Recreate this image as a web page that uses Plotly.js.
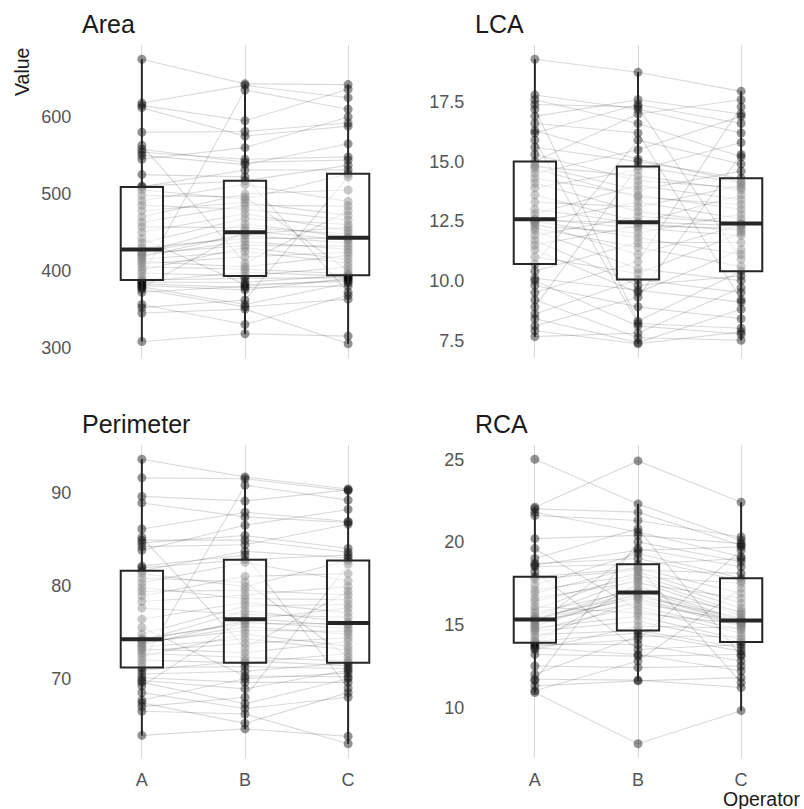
<!DOCTYPE html>
<html><head><meta charset="utf-8">
<script src="https://cdn.plot.ly/plotly-3.0.1.min.js"></script>
<style>html,body{margin:0;padding:0;background:#fff}#chart{width:804px;height:809px}</style>
</head><body><div id="chart"></div>
<script>
const operators = ['A','B','C'];
const panelNames = ['Area','LCA','Perimeter','RCA'];

const areaA=[308,345,352,356,372,376,378,379,381,383,385,386,388,392,397,401,405,409,412,415,418,420,422,423,425,430,436,442,450,457,463,470,478,485,491,498,505,509,510,525,545,550,554,558,563,580,612,615,618,675];
const areaB=[318,350,362,330,380,353,452,356,375,378,385,398,390,635,393,430,402,418,405,425,448,438,433,461,446,442,468,382,474,456,485,500,489,480,512,496,493,531,517,522,560,538,545,541,410,581,575,595,641,643];
const areaC=[315,305,522,368,388,363,440,384,390,380,394,393,391,610,405,415,396,424,420,410,456,428,432,444,436,442,460,386,452,448,484,505,472,466,490,400,526,531,537,372,600,565,548,544,478,592,588,636,625,642];

const lcaA=[7.65,7.9,8.1,8.4,8.6,8.9,9.2,9.5,9.8,10.0,10.1,10.4,10.7,11.0,11.3,11.5,11.7,11.9,12.1,12.2,12.3,12.4,12.45,12.5,12.55,12.6,12.8,13.0,13.3,13.6,13.9,14.1,14.3,14.5,14.7,14.8,14.85,15.0,15.3,15.6,15.9,16.2,16.3,16.6,16.9,17.2,17.4,17.6,17.8,19.3];
const lcaB=[7.8,7.35,9.3,7.4,10.05,14.8,7.6,10.8,8.9,8.1,9.6,11.6,15.9,10.3,9.5,12.3,9.8,12.7,10.5,11.4,12.0,11.1,13.3,11.8,12.42,12.2,14.0,12.4,13.1,12.48,14.65,12.9,13.6,15.5,13.5,14.4,13.8,17.0,14.2,15.0,8.2,17.4,15.1,16.2,17.6,8.3,17.3,16.6,17.2,18.75];
const lcaC=[9.7,7.85,15.3,8.8,9.5,14.1,7.5,17.3,8.4,7.75,9.1,11.6,14.9,12.0,11.3,12.2,10.2,12.42,10.0,10.6,12.8,12.35,12.6,11.1,13.6,11.9,13.4,12.1,14.0,12.3,15.8,12.38,13.0,16.9,13.2,13.8,14.6,17.6,13.9,14.3,8.0,16.6,14.15,9.2,17.0,10.4,10.9,15.2,16.2,17.95];

const perA=[63.9,66.5,67.0,67.4,67.7,68.5,69.2,69.6,69.8,70.1,70.5,70.9,71.2,71.6,72.0,72.4,72.7,73.0,73.2,73.4,73.6,73.8,73.9,74.1,74.2,74.3,74.8,75.5,76.4,77.6,78.3,78.9,79.4,79.8,80.3,80.8,81.3,81.6,81.9,82.1,83.8,84.2,84.6,84.9,85.2,86.1,88.9,89.6,91.6,93.6];
const perB=[64.6,66.2,68.0,65.2,70.0,66.8,76.5,67.3,68.9,69.6,70.8,71.9,71.3,90.8,71.7,74.8,72.3,73.8,72.8,74.3,76.3,75.6,75.2,77.3,76.1,75.9,77.8,70.3,78.2,76.9,79.0,81.0,79.5,78.6,82.5,80.4,79.9,83.7,82.8,83.3,86.5,84.4,85.4,84.9,73.3,87.9,87.4,89.1,91.5,91.7];
const perC=[63.8,63.0,82.3,68.5,70.6,68.0,75.7,70.0,70.9,69.6,71.7,71.4,71.1,89.2,72.7,73.5,71.9,74.4,74.0,73.1,77.6,74.8,75.1,76.1,75.4,75.9,78.0,70.2,77.1,76.6,79.9,81.3,79.0,78.5,80.5,72.3,82.7,83.0,83.3,69.0,88.2,86.6,84.0,83.6,79.4,86.9,86.8,90.3,90.2,90.4];

const rcaA=[10.9,11.0,11.3,11.6,11.7,12.0,12.5,13.2,13.5,13.6,13.7,13.8,13.9,14.0,14.2,14.4,14.6,14.7,14.8,14.9,15.0,15.1,15.2,15.25,15.3,15.32,15.4,15.5,15.7,15.9,16.1,16.4,16.6,16.9,17.1,17.4,17.75,17.9,18.2,18.5,18.6,18.7,19.0,19.6,20.2,21.6,21.8,22.0,22.1,25.0];
const rcaB=[7.8,12.8,11.6,20.0,11.65,14.3,12.4,13.1,14.9,13.2,14.1,13.8,17.5,14.5,16.5,14.65,15.2,16.1,15.5,16.9,19.6,16.7,16.3,17.3,16.6,17.0,16.8,17.8,17.1,18.2,15.7,17.9,17.6,18.5,18.0,19.3,18.3,18.4,13.5,18.65,19.5,19.0,20.8,15.9,20.4,21.3,20.6,21.8,24.9,22.3];
const rcaC=[9.8,17.2,11.8,18.8,11.2,14.3,12.5,13.2,14.8,12.2,19.5,12.8,16.6,13.4,14.9,13.6,13.95,14.7,14.1,15.15,18.5,15.4,15.2,15.28,15.0,15.8,15.1,15.7,15.22,16.3,15.05,17.5,15.55,11.5,16.0,17.8,18.1,16.9,13.8,19.0,19.7,17.65,13.1,14.5,19.9,20.3,19.1,19.8,22.4,20.1];

const seriesByPanel = [[areaA,areaB,areaC],[lcaA,lcaB,lcaC],[perA,perB,perC],[rcaA,rcaB,rcaC]];
const yTickStep = [100, 2.5, 10, 5];
const yTickFormat = ['d', '.1f', 'd', 'd'];

// layout geometry (pixels in 804x809)
const W = 804, H = 809;
const colX = [[80,410],[473,803]];
const rowY = [[45,358],[445,758]];
const FONT = 'Liberation Sans, Arial, Helvetica, sans-serif';

const data = [];
const layout = {
  width: W, height: H,
  margin: {l:0, r:0, t:0, b:0},
  paper_bgcolor: '#fff', plot_bgcolor: 'rgba(0,0,0,0)',
  showlegend: false,
  font: {family: FONT, color: '#555'},
  annotations: []
};

function median(arr){
  const s = arr.slice().sort((p,q)=>p-q);
  const n = s.length;
  return n%2 ? s[(n-1)/2] : (s[n/2-1]+s[n/2])/2;
}

for (let k=0;k<4;k++){
  const [sa,sb,sc] = seriesByPanel[k];
  const n = sa.length;
  const col = k%2, row = Math.floor(k/2);
  const xd = [colX[col][0]/W, colX[col][1]/W];
  const yd = [1-rowY[row][1]/H, 1-rowY[row][0]/H];
  const all = sa.concat(sb, sc);
  const mn = Math.min(...all), mx = Math.max(...all);
  const pad = (mx-mn)*0.05;
  const yr = [mn-pad, mx+pad];

  const bx = k===0 ? 'x' : 'x'+(k+1);
  const by = k===0 ? 'y' : 'y'+(k+1);
  const ox = 'x'+(k+5), oy = 'y'+(k+5);

  // connecting lines
  const lx=[], ly=[];
  for (let i=0;i<n;i++){ lx.push('A','B','C','C'); ly.push(sa[i],sb[i],sc[i],null); }
  data.push({type:'scatter', mode:'lines', x:lx, y:ly, xaxis:bx, yaxis:by,
    line:{color:'rgba(0,0,0,0.15)', width:1.1}, hoverinfo:'skip', connectgaps:false});

  // points
  const px=[], py=[];
  [sa,sb,sc].forEach((s,j)=>{ s.forEach(v=>{px.push(operators[j]); py.push(v);}); });
  data.push({type:'scatter', mode:'markers', x:px, y:py, xaxis:bx, yaxis:by,
    marker:{size:9, color:'rgba(0,0,0,0.42)', line:{width:0}}, hoverinfo:'skip'});

  // boxes (overlay, drawn on top)
  data.push({type:'box', x:px, y:py, xaxis:ox, yaxis:oy,
    boxpoints:'outliers', marker:{opacity:0, size:1},
    fillcolor:'rgba(255,255,255,0.5)', line:{color:'#262626', width:2},
    whiskerwidth:0, width:0.41, hoverinfo:'skip'});

  // thick median bars
  data.push({type:'scatter', mode:'markers', x:operators, y:[median(sa),median(sb),median(sc)],
    xaxis:ox, yaxis:oy, hoverinfo:'skip',
    marker:{symbol:'line-ew', size:30, color:'#262626', line:{width:4, color:'#262626'}}});

  const baseX = {domain:xd, anchor:by, type:'category', categoryorder:'array', categoryarray:operators,
    range:[-0.6,2.6], showgrid:true, gridcolor:'#d9d9d9', gridwidth:1, zeroline:false, showline:false,
    ticks:'outside', ticklen:5, tickcolor:'rgba(0,0,0,0)', showticklabels: row===1,
    tickfont:{size:18, color:'#555', family:FONT}, fixedrange:true};
  const baseY = {domain:yd, anchor:bx, range:yr, showgrid:false, zeroline:false, showline:false,
    tick0:0, dtick:yTickStep[k], tickformat:yTickFormat[k],
    ticks:'outside', ticklen:4, tickcolor:'rgba(0,0,0,0)',
    tickfont:{size:18, color:'#555', family:FONT}, fixedrange:true};
  const ovX = {overlaying:bx, anchor:oy, type:'category', categoryorder:'array', categoryarray:operators,
    range:[-0.6,2.6], visible:false, fixedrange:true};
  const ovY = {overlaying:by, anchor:ox, range:yr, visible:false, fixedrange:true};

  layout[k===0?'xaxis':'xaxis'+(k+1)] = baseX;
  layout[k===0?'yaxis':'yaxis'+(k+1)] = baseY;
  layout['xaxis'+(k+5)] = ovX;
  layout['yaxis'+(k+5)] = ovY;

  layout.annotations.push({text:panelNames[k], xref:'paper', yref:'paper',
    x:(colX[col][0]+0)/W, y:1-(rowY[row][0]-21)/H, xanchor:'left', yanchor:'middle',
    showarrow:false, font:{size:25, color:'#1a1a1a', family:FONT}});
}

layout.annotations.push({text:'Value', xref:'paper', yref:'paper', x:22/W, y:1-72/H,
  xanchor:'center', yanchor:'middle', textangle:-90, showarrow:false,
  font:{size:19.5, color:'#1a1a1a', family:FONT}});
layout.annotations.push({text:'Operator', xref:'paper', yref:'paper', x:802/W, y:1-799/H,
  xanchor:'right', yanchor:'middle', showarrow:false,
  font:{size:19.5, color:'#1a1a1a', family:FONT}});

Plotly.newPlot('chart', data, layout, {displayModeBar:false, staticPlot:true});
</script></body></html>
